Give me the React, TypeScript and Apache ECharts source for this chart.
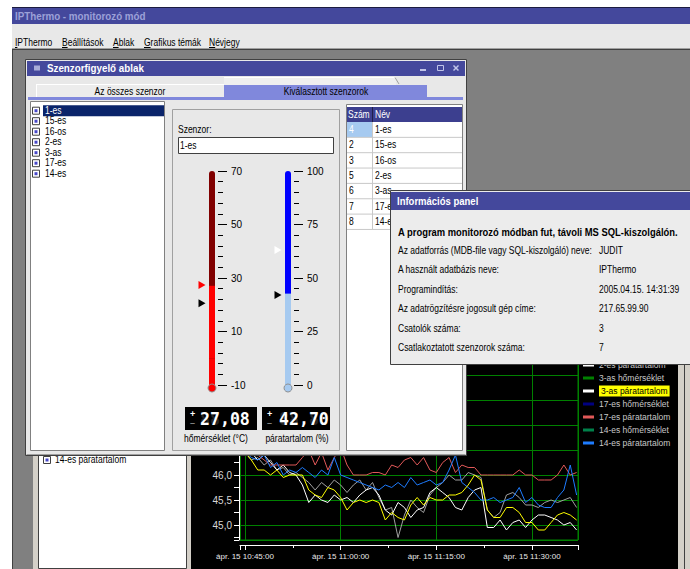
import React, { useEffect, useRef } from 'react';
import * as echarts from 'echarts';

const FONT = '"Liberation Sans", Arial, sans-serif';
const MONO = '"DejaVu Sans Mono", monospace';

// ---------------- data ----------------
const APP_TITLE = 'IPThermo - monitorozó mód';
const MENU = ['IPThermo', 'Beállítások', 'Ablak', 'Grafikus témák', 'Névjegy'];
const WINDOW_TITLE = 'Szenzorfigyelő ablak';
const TABS = ['Az összes szenzor', 'Kiválasztott szenzorok'];
const SENSORS = ['1-es', '15-es', '16-os', '2-es', '3-as', '17-es', '14-es'];
const SENSOR_NUMBERS = [4, 2, 3, 5, 6, 7, 8];
const TABLE_HEADER = ['Szám', 'Név'];
const SELECTED_SENSOR = '1-es';
const SENSOR_FIELD_LABEL = 'Szenzor:';

const TEMP_NOW = 27.08;
const HUM_NOW = 42.7;
const TEMP_AXIS = [-10, 70, 20]; // min, max, step
const HUM_AXIS = [0, 100, 25];
const TEMP_MARKERS = [27.4, 20.6];
const HUM_MARKERS = [63.1, 42.1];
const GAUGE_LABELS = ['hőmérséklet (°C)', 'páratartalom (%)'];

const INFO_TITLE = 'Információs panel';
const INFO_HEADLINE = 'A program monitorozó módban fut, távoli MS SQL-kiszolgálón.';
const INFO_LABELS = [
  'Az adatforrás (MDB-file vagy SQL-kiszolgáló) neve:',
  'A használt adatbázis neve:',
  'Programindítás:',
  'Az adatrögzítésre jogosult gép címe:',
  'Csatolók száma:',
  'Csatlakoztatott szenzorok száma:',
];
const INFO_VALUES = ['JUDIT', 'IPThermo', '2005.04.15. 14:31:39', '217.65.99.90', '3', '7'];

const LEGEND_NAMES = [
  '1-es hőmérséklet', '1-es páratartalom', '15-es hőmérséklet', '15-es páratartalom',
  '16-os hőmérséklet', '16-os páratartalom', '2-es hőmérséklet', '2-es páratartalom',
  '3-as hőmérséklet', '3-as páratartalom', '17-es hőmérséklet', '17-es páratartalom',
  '14-es hőmérséklet', '14-es páratartalom',
];
const LEGEND_COLORS = [
  '#ff0000', '#00ffff', '#ff00ff', '#ff8000',
  '#00ff00', '#a0a0a0', '#800080', '#ffffff',
  '#008000', '#ffffff', '#000080', '#e05858',
  '#00804a', '#1e7cff',
];
const HIGHLIGHTED = '3-as páratartalom';
const HIGHLIGHT_LINE = '#ffff00';
const LIST_BEHIND = '14-es páratartalom';

const SAMPLE_START = Date.UTC(2005, 3, 15, 10, 44, 0);
const SAMPLE_STEP_MS = 60000;
const X_MIN = Date.UTC(2005, 3, 15, 10, 44, 13);
const X_MAX = Date.UTC(2005, 3, 15, 11, 37, 13);
const X_STEP_MS = 15 * 60000;
const Y_RANGE = [44.7, 49.0, 0.5];

// humidity readings, one per minute from 10:44
const HUM_3AS = [
  46.6, 46.45, 46.3, 46.1, 46.1, 46.0, 46.1, 45.95, 46.0, 46.0, 46.0,
  45.7, 45.6, 45.55, 45.75, 45.7, 45.55, 45.3, 45.45, 45.5, 45.45, 45.5, 45.45,
  45.1, 45.25, 45.15, 45.1, 45.4, 45.55, 45.4, 45.55, 45.5, 45.5, 45.6, 45.6, 45.65, 45.8, 46.0, 45.9,
  45.3, 45.15, 45.15, 45.35, 45.35, 45.25, 45.05, 45.05, 44.9, 44.9, 45.05, 45.2, 45.25, 45.2, 45.1,
];
const HUM_2ES = [
  46.6, 46.5, 46.45, 46.3, 46.4, 46.25, 46.1, 46.2, 46.05, 46.0, 45.8,
  45.45, 45.6, 45.5, 45.45, 45.6, 45.5, 45.55, 45.45, 45.6, 45.7, 45.75, 45.6,
  45.3, 45.2, 45.45, 45.35, 45.15, 45.3, 45.35, 45.65, 45.75, 45.65, 45.55, 45.35, 45.3, 45.55, 45.7, 45.75,
  44.95, 44.95, 45.1, 44.9, 45.05, 45.1, 44.95, 45.1, 45.2, 45.2, 45.15, 45.1, 45.0, 45.05, 44.9,
];
const HUM_16OS = [
  46.5, 46.45, 46.3, 46.35, 46.2, 46.3, 46.1, 46.15, 46.0, 46.05, 45.95,
  45.85, 45.7, 45.85, 45.75, 45.9, 45.8, 45.65, 45.8, 45.9, 45.7, 45.85, 45.55,
  45.3, 45.35, 44.75, 45.2, 45.5, 45.35, 45.25, 45.6, 45.75, 45.85, 46.0, 45.9, 45.9, 46.05, 46.0, 45.95,
  45.3, 45.15, 45.25, 45.6, 45.65, 45.55, 45.4, 45.4, 45.35, 45.45, 45.5, 45.45, 45.5, 45.55, 45.35,
];
const HUM_17ES = [
  46.7, 46.6, 46.5, 46.4, 46.3, 46.2, 46.2, 46.2, 46.2, 46.2, 46.35,
  46.5, 46.2, 46.45, 46.1, 46.35, 46.55, 46.2, 46.0, 46.0, 46.0, 46.05, 46.05,
  46.0, 46.2, 46.15, 46.3, 46.35, 46.2, 46.35, 46.1, 46.05, 46.25, 46.35, 46.05, 46.2, 46.15, 46.15, 46.0,
  46.0, 46.0, 46.0, 46.0, 46.0, 46.1, 46.0, 46.0, 45.9, 45.9, 45.9, 46.0, 46.2, 46.0, 46.05,
];
const HUM_14ES = [
  46.7, 46.45, 46.35, 46.3, 46.4, 46.15, 46.25, 46.0, 46.1, 46.05, 46.15,
  46.05, 45.95, 46.1, 46.0, 46.35, 46.0, 45.95, 45.9, 45.85, 45.8, 45.75, 45.7,
  45.8, 45.75, 45.85, 45.75, 45.95, 45.8, 45.85, 45.9, 45.8, 45.85, 46.1, 46.4, 45.85, 45.75, 45.65, 45.5,
  45.5, 45.55, 45.45, 45.5, 45.55, 45.75, 45.45, 45.55, 45.4, 45.35, 45.35, 45.55, 45.7, 46.2, 45.6,
];
const LINE_DATA: Record<string, number[]> = {
  '2-es páratartalom': HUM_2ES,
  '16-os páratartalom': HUM_16OS,
  '17-es páratartalom': HUM_17ES,
  '14-es páratartalom': HUM_14ES,
  '3-as páratartalom': HUM_3AS,
};

// ---------------- helpers ----------------
const pad = (n: number) => String(n).padStart(2, '0');
const fmt2 = (v: number) => v.toFixed(2).replace('.', ',');

function buildGraphics() {
  const els: any[] = [];
  let base = 0;
  let k = 0;
  const Z = () => base + (k++) * 0.001;
  const rect = (x: number, y: number, w: number, h: number, fill: string | null, stroke: string | null = null, lw = 1) =>
    els.push({ type: 'rect', z: Z(), silent: true, shape: { x, y, width: w, height: h }, style: { fill: fill ?? 'none', stroke: stroke ?? 'none', lineWidth: lw } });
  const line = (x1: number, y1: number, x2: number, y2: number, stroke: string, lw = 1) =>
    els.push({ type: 'line', z: Z(), silent: true, shape: { x1, y1, x2, y2 }, style: { stroke, lineWidth: lw } });
  const text = (x: number, y: number, t: string, o: any = {}) =>
    els.push({
      type: 'text', z: Z(), silent: true, x, y, scaleX: o.sx ?? 0.85,
      style: {
        text: t, fill: o.color ?? '#000000',
        font: `${o.bold ? 'bold ' : ''}${o.size ?? 10}px ${o.family ?? FONT}`,
        align: o.align ?? 'left', verticalAlign: 'middle',
      },
    });
  const circle = (cx: number, cy: number, r: number, fill: string, stroke: string) =>
    els.push({ type: 'circle', z: Z(), silent: true, shape: { cx, cy, r }, style: { fill, stroke, lineWidth: 1 } });

  // ---- application chrome ----
  base = -30; k = 0;
  rect(0, 0, 690, 569, '#ffffff');
  rect(12, 7, 678, 562, '#808080');
  rect(12, 7, 678, 17, '#44489c');
  line(12, 7.5, 690, 7.5, '#1c1c40');
  text(15, 16, APP_TITLE, { color: '#9ca1d8', bold: true, sx: 0.98 });
  rect(12, 24, 678, 24, '#e8e8e8');
  line(12, 48.5, 690, 48.5, '#a0a0a0');
  line(12, 49.5, 690, 49.5, '#404040');
  line(12.5, 49, 12.5, 569, '#404040');
  const menuX = [15, 62, 113, 144, 209];
  const accW = [2.4, 5.6, 5.6, 6.6, 6.2];
  MENU.forEach((m, i) => {
    text(menuX[i], 43, m);
    line(menuX[i], 47.5, menuX[i] + accW[i], 47.5, '#000000');
  });

  // ---- chart window (behind) ----
  base = -20; k = 0;
  rect(33, 240, 657, 329, '#d4d0c8');
  rect(38.5, 250.5, 148, 318, '#ffffff', '#404040');
  rect(43.5, 456.5, 7, 7, '#ffffff', '#404040');
  rect(45.5, 458.5, 3, 3, '#4848c8');
  text(55, 460, LIST_BEHIND);
  rect(191, 250, 487, 319, '#000000');
  line(684.5, 240, 684.5, 569, '#404040');

  // ---- sensor window ----
  base = 50; k = 0;
  rect(25.5, 59.5, 441, 396, '#e8e8e8', '#404040');
  line(26.5, 454.5, 465.5, 454.5, '#a0a0a0');
  rect(27, 61, 438, 15, '#44489c');
  rect(34, 65.5, 6, 5, '#a8acd8');
  text(47, 68.5, WINDOW_TITLE, { color: '#ffffff', bold: true, sx: 0.98 });
  line(420, 70, 426, 70, '#c0c4e8', 2);
  rect(437.5, 65.5, 6, 5, null, '#c0c4e8');
  line(453.5, 65.5, 458.5, 70.5, '#c0c4e8', 1.5);
  line(458.5, 65.5, 453.5, 70.5, '#c0c4e8', 1.5);
  // tabs
  rect(36, 84, 188, 13, '#ececec');
  line(36, 84.5, 224, 84.5, '#ffffff');
  line(36.5, 84, 36.5, 97, '#ffffff');
  text(130, 91.5, TABS[0], { align: 'center' });
  rect(224, 77, 172, 8, '#efefef');
  line(224, 77.5, 395, 77.5, '#ffffff');
  line(395, 77.5, 399, 84, '#a0a0a0');
  rect(224, 85, 203, 12, '#8088dc');
  text(326, 91.5, TABS[1], { align: 'center' });
  rect(28, 97, 435, 3, '#8088dc');
  // sensor list
  rect(30.5, 101.5, 134, 349, '#ffffff', '#808080');
  SENSORS.forEach((s, i) => {
    const y = 110.7 + i * 10.5;
    const sel = s === SELECTED_SENSOR;
    if (sel) rect(43, y - 5.5, 121, 11, '#0a246a');
    rect(32.5, y - 3.5, 7, 7, '#ffffff', '#404040');
    rect(34.5, y - 1.5, 3, 3, '#4848c8');
    text(45, y, s, { color: sel ? '#ffffff' : '#000000' });
  });
  // gauges group
  rect(172.5, 109.5, 167, 341, null, '#a0a0a0');
  text(178, 130, SENSOR_FIELD_LABEL);
  rect(178.5, 137.5, 155, 16, '#ffffff', '#404040');
  text(180, 145.5, SELECTED_SENSOR);
  // digital displays
  const lcd = (x: number, w: number, val: number, dx: number) => {
    rect(x, 407, w, 23, '#000000');
    text(x + 5, 413.5, '+', { color: '#ffffff', bold: true, size: 9, sx: 1 });
    text(x + 5, 423, '–', { color: '#808080', bold: true, size: 9, sx: 1 });
    text(x + dx, 418.5, '88,88', { color: '#262626', bold: true, size: 18, family: MONO, sx: 0.92 });
    text(x + dx, 418.5, fmt2(val), { color: '#ffffff', bold: true, size: 18, family: MONO, sx: 0.92 });
  };
  lcd(185, 72, TEMP_NOW, 15);
  lcd(262, 68, HUM_NOW, 17);
  text(216, 439, GAUGE_LABELS[0], { align: 'center' });
  text(297, 439, GAUGE_LABELS[1], { align: 'center' });
  // table
  rect(346.5, 104.5, 116, 346, '#ffffff', '#808080');
  rect(347, 107, 115, 15, '#3c3f8f');
  text(348, 114.5, TABLE_HEADER[0], { color: '#ffffff' });
  line(372.5, 107, 372.5, 122, '#20204a');
  text(375, 114.5, TABLE_HEADER[1], { color: '#ffffff' });
  SENSORS.forEach((s, i) => {
    const y0 = 122 + i * 15.35;
    if (i === 0) rect(347, y0, 25.5, 15, '#a6caf0');
    text(349, y0 + 7.7, String(SENSOR_NUMBERS[i]), { color: i === 0 ? '#ffffff' : '#000000' });
    text(375, y0 + 7.7, s);
    line(347, y0 + 15.35, 462, y0 + 15.35, '#c8c8c8');
  });
  line(372.5, 122, 372.5, 229.5, '#c8c8c8');

  // bulbs of the thermometers
  base = 65; k = 0;
  circle(212, 388, 4, '#ff0000', '#909090');
  circle(288, 388, 4, '#a6caf0', '#909090');

  // ---- info panel ----
  base = 80; k = 0;
  rect(390.5, 190.5, 300, 174, '#ececec', '#404040');
  rect(391, 192, 299, 18, '#44489c');
  text(397, 201, INFO_TITLE, { color: '#ffffff', bold: true, sx: 0.95 });
  text(398, 232, INFO_HEADLINE, { bold: true, sx: 0.94 });
  const rowsY = [250.5, 270, 289.5, 309, 328.5, 348];
  INFO_LABELS.forEach((l, i) => {
    text(398, rowsY[i], l);
    text(599, rowsY[i], INFO_VALUES[i]);
  });
  return els;
}

function buildOption() {
  const lineSeries = LEGEND_NAMES.map((name, i) => {
    const vals = LINE_DATA[name] || [];
    const hi = name === HIGHLIGHTED;
    return {
      type: 'line', name, xAxisIndex: 0, yAxisIndex: 0,
      data: vals.map((v, j) => [SAMPLE_START + j * SAMPLE_STEP_MS, v]),
      showSymbol: false, symbol: 'none', silent: true,
      color: LEGEND_COLORS[i],
      itemStyle: { color: LEGEND_COLORS[i] },
      lineStyle: { width: 1, color: hi ? HIGHLIGHT_LINE : LEGEND_COLORS[i] },
      z: hi ? 3 : 2,
      emphasis: { disabled: true },
    };
  });
  const order = [...lineSeries.filter((s) => s.name !== HIGHLIGHTED), ...lineSeries.filter((s) => s.name === HIGHLIGHTED)];

  const markers = (vals: number[], colors: string[]) => ({
    z: 62, silent: true, symbol: 'path://M0,0L8,4L0,8Z', symbolSize: [7, 8], symbolOffset: [-10, 0],
    label: { show: false },
    data: vals.map((v, i) => ({ coord: [0, v], itemStyle: { color: colors[i] } })),
  });
  const barBase = { type: 'bar', barWidth: 6, silent: true, z: 60, emphasis: { disabled: true } };

  const gaugeAxis = (idx: number, range: number[]) => ({
    type: 'value', gridIndex: idx, min: range[0], max: range[1], interval: range[2],
    position: 'right', offset: 3, z: 60,
    axisLine: { show: false },
    axisTick: { show: true, length: 9, lineStyle: { color: '#000000' } },
    minorTick: { show: true, splitNumber: 5, length: 5, lineStyle: { color: '#000000' } },
    axisLabel: { color: '#000000', fontSize: 10, fontFamily: FONT, margin: 13 },
    splitLine: { show: false },
  });

  return {
    animation: false,
    backgroundColor: '#ffffff',
    textStyle: { fontFamily: FONT },
    grid: [
      { left: 240, top: 325, width: 338, height: 215, show: true, borderColor: '#008000', borderWidth: 1, backgroundColor: 'transparent', outerBoundsMode: 'none' },
      { left: 209, top: 171, width: 6, height: 214, outerBoundsMode: 'none' },
      { left: 285, top: 171, width: 6, height: 214, outerBoundsMode: 'none' },
    ],
    xAxis: [
      {
        type: 'value', gridIndex: 0, min: X_MIN, max: X_MAX, minInterval: X_STEP_MS, maxInterval: X_STEP_MS,
        offset: 5,
        axisLine: { show: true, lineStyle: { color: '#ffffff' } },
        axisTick: { show: true, length: 5, lineStyle: { color: '#ffffff' } },
        minorTick: { show: true, splitNumber: 2, length: 3, lineStyle: { color: '#ffffff' } },
        axisLabel: {
          color: '#e8e8e8', fontSize: 8, fontFamily: FONT, margin: 7,
          formatter: (v: number) => {
            if (Math.round(v) % X_STEP_MS !== 0) return '';
            const d = new Date(v);
            return `ápr. ${d.getUTCDate()} ${pad(d.getUTCHours())}:${pad(d.getUTCMinutes())}:${pad(d.getUTCSeconds())}`;
          },
        },
        splitLine: { show: true, lineStyle: { color: '#008000', width: 1 } },
      },
      { type: 'category', gridIndex: 1, data: ['T'], show: false },
      { type: 'category', gridIndex: 2, data: ['H'], show: false },
    ],
    yAxis: [
      {
        type: 'value', gridIndex: 0, min: Y_RANGE[0], max: Y_RANGE[1], minInterval: Y_RANGE[2], maxInterval: Y_RANGE[2],
        offset: 1,
        axisLine: { show: true, lineStyle: { color: '#ffffff' } },
        axisTick: { show: true, length: 5, lineStyle: { color: '#ffffff' } },
        minorTick: { show: true, splitNumber: 2, length: 5, lineStyle: { color: '#ffffff' } },
        axisLabel: {
          color: '#d8d8d8', fontSize: 10, fontFamily: FONT, margin: 7,
          formatter: (v: number) => (Math.abs(v / Y_RANGE[2] - Math.round(v / Y_RANGE[2])) < 1e-6 ? v.toFixed(1).replace('.', ',') : ''),
        },
        splitLine: { show: true, lineStyle: { color: '#008000', width: 1 } },
      },
      gaugeAxis(1, TEMP_AXIS),
      gaugeAxis(2, HUM_AXIS),
    ],
    legend: {
      show: true, orient: 'vertical', left: 583, top: 268.5, padding: 0, itemGap: 2,
      itemWidth: 11, itemHeight: 3, icon: 'rect', selectedMode: false,
      itemStyle: { borderWidth: 0 },
      textStyle: { color: '#c8c8c8', fontSize: 8.5, fontFamily: FONT, lineHeight: 11 },
      data: LEGEND_NAMES.map((name, i) =>
        name === HIGHLIGHTED
          ? { name, itemStyle: { color: LEGEND_COLORS[i] }, textStyle: { color: '#000000', backgroundColor: '#ffff00', padding: [0, 2] } }
          : { name, itemStyle: { color: LEGEND_COLORS[i] } }),
    },
    series: [
      ...order,
      {
        ...barBase, name: 'hőmérséklet', xAxisIndex: 1, yAxisIndex: 1, stack: 'temp', data: [TEMP_NOW],
        itemStyle: { color: '#ff0000' }, showBackground: true,
        backgroundStyle: { color: '#800000', borderRadius: [3, 3, 0, 0] },
        markPoint: markers(TEMP_MARKERS, ['#ff0000', '#000000']),
      },
      {
        ...barBase, name: 'hőmérséklet alsó', xAxisIndex: 1, yAxisIndex: 1, stack: 'temp', data: [TEMP_AXIS[0]],
        itemStyle: { color: '#ff0000' },
      },
      {
        ...barBase, name: 'páratartalom', xAxisIndex: 2, yAxisIndex: 2, data: [HUM_NOW],
        itemStyle: { color: '#a6caf0' }, showBackground: true,
        backgroundStyle: { color: '#0000ff', borderRadius: [3, 3, 0, 0] },
        markPoint: markers(HUM_MARKERS, ['#ffffff', '#000000']),
      },
    ],
    graphic: { elements: buildGraphics() },
  };
}

export default function App() {
  const ref = useRef<HTMLDivElement>(null);
  useEffect(() => {
    if (!ref.current) return;
    const chart = echarts.init(ref.current, null, { renderer: 'svg', width: 690, height: 569 });
    chart.setOption(buildOption() as any);
    return () => chart.dispose();
  }, []);
  return <div ref={ref} style={{ position: 'absolute', left: 0, top: 0, width: 690, height: 569 }} />;
}
